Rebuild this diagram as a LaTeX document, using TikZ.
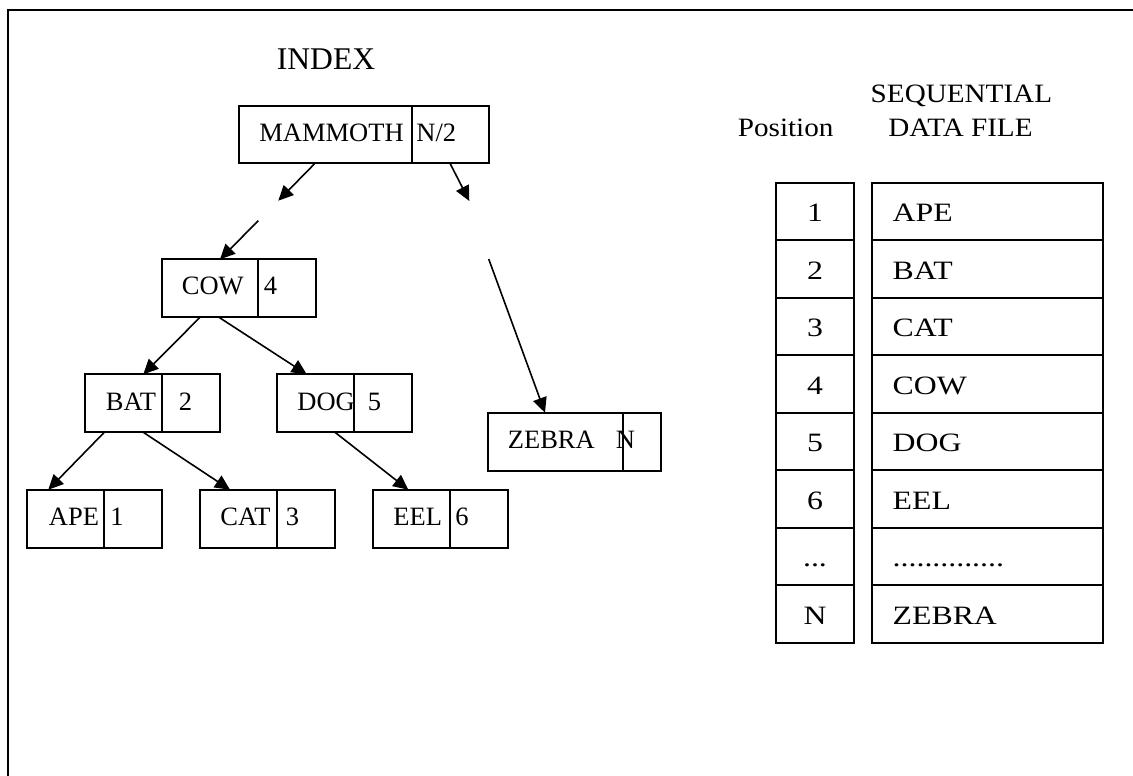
\documentclass[tikz,border=0pt]{standalone}
\usepackage{fontspec}
\setmainfont{Liberation Serif}
\newfontfamily\tabfont{Liberation Serif}[FakeStretch=1.2]
\newfontfamily\hdfont{Liberation Serif}[FakeStretch=1.1]
\usetikzlibrary{arrows.meta,fit}
\newcommand\tdotsA{...}
\newcommand\tdotsB{..............}
\begin{document}
\begin{tikzpicture}[x=0.5pt,y=-0.5pt,
  cellbox/.style={draw, line width=1pt, inner sep=0pt, outer sep=0pt},
  lbl/.style={inner sep=0pt, anchor=base west, font=\fontsize{13.25}{16}\selectfont},
  arr/.style={line width=0.8pt, -{Triangle[length=7.5pt,width=7pt]}},
  tabtxt/.style={inner sep=0pt, font=\tabfont\fontsize{13.25}{16}\selectfont},
  hdr/.style={inner sep=0pt, anchor=base, font=\hdfont\fontsize{13.25}{16}\selectfont}
]
\useasboundingbox (0,0) rectangle (1133,775);
% frame
\draw[line width=1.25pt] (8,776) -- (8,10) -- (1134,10);

% title
\node[inner sep=0pt, anchor=base, font=\fontsize{15.8}{18}\selectfont] (idx) at (326,69.3) {INDEX};

% tree nodes
\node[cellbox, fit={(238.7,105.7) (412,163.3)}] (mamK) {};
\node[cellbox, fit={(412,105.7) (488.7,163.3)}] (mamN) {};
\node[lbl] (mamKt) at (259,141.7) {MAMMOTH};
\node[lbl] (mamNt) at (416,141.7) {N/2};

\node[cellbox, fit={(162,259.3) (258,317.3)}] (cowK) {};
\node[cellbox, fit={(258,259.3) (315.7,317.3)}] (cowN) {};
\node[lbl] (cowKt) at (181.5,294.5) {COW};
\node[lbl] (cowNt) at (263.5,294.5) {4};

\node[cellbox, fit={(85.3,374.3) (162.3,432.3)}] (batK) {};
\node[cellbox, fit={(162.3,374.3) (220,432.3)}] (batN) {};
\node[lbl] (batKt) at (105.5,410) {BAT};
\node[lbl] (batNt) at (178.5,410) {2};

\node[cellbox, fit={(277,374.3) (354.3,432.3)}] (dogK) {};
\node[cellbox, fit={(354.3,374.3) (412,432.3)}] (dogN) {};
\node[lbl] (dogKt) at (297,410) {DOG};
\node[lbl] (dogNt) at (367.5,410) {5};

\node[cellbox, fit={(27.3,489.7) (104.3,547.7)}] (apeK) {};
\node[cellbox, fit={(104.3,489.7) (162.3,547.7)}] (apeN) {};
\node[lbl] (apeKt) at (48.5,525) {APE};
\node[lbl] (apeNt) at (110,525) {1};

\node[cellbox, fit={(200.3,489.7) (277,547.7)}] (catK) {};
\node[cellbox, fit={(277,489.7) (335,547.7)}] (catN) {};
\node[lbl] (catKt) at (220,525) {CAT};
\node[lbl] (catNt) at (285.5,525) {3};

\node[cellbox, fit={(373.3,489.7) (450.3,547.7)}] (eelK) {};
\node[cellbox, fit={(450.3,489.7) (507.7,547.7)}] (eelN) {};
\node[lbl] (eelKt) at (393,525) {EEL};
\node[lbl] (eelNt) at (455,525) {6};

\node[cellbox, fit={(488.3,412.7) (623,470.7)}] (zebK) {};
\node[cellbox, fit={(623,412.7) (661,470.7)}] (zebN) {};
\node[lbl] (zebKt) at (507.5,448.5) {ZEBRA};
\node[lbl] (zebNt) at (615.5,448.5) {N};

% free ends of the broken connectors
\coordinate (g1) at (278.3,200.7);
\coordinate (g2) at (469.3,201);
\coordinate (g3) at (258.3,220.7);
\coordinate (g4) at (488.7,259);

% connectors
\draw[arr] ([xshift=38.15pt]mamK.south west) -- (g1);
\draw[arr] ([xshift=19pt]mamN.south west) -- (g2);
\draw[arr] (g3) -- ([xshift=29pt]cowK.north west);
\draw[arr] (g4) -- ([xshift=28.35pt]zebK.north west);
\draw[arr] ([xshift=19pt]cowK.south west) -- ([xshift=29pt]batK.north west);
\draw[arr] ([xshift=28.5pt]cowK.south west) -- ([xshift=14.85pt]dogK.north west);
\draw[arr] ([xshift=9.5pt]batK.south west) -- ([xshift=10.5pt]apeK.north west);
\draw[arr] ([xshift=29pt]batK.south west) -- ([xshift=14.85pt]catK.north west);
\draw[arr] ([xshift=29pt]dogK.south west) -- ([xshift=17.5pt]eelK.north west);

% headers
\node[hdr, anchor=base west] (pos) at (737.5,137) {Position};
\node[hdr] (seq1) at (961.4,103) {SEQUENTIAL};
\node[hdr] (seq2) at (960.5,137) {DATA FILE};

% table
\foreach \i/\num/\dat [count=\k from 0] in {1/1/APE,2/2/BAT,3/3/CAT,4/4/COW,5/5/DOG,6/6/EEL,7/\tdotsA/\tdotsB,8/N/ZEBRA}{
  \node[cellbox, minimum width=38.85pt, minimum height=28.75pt] (p\i) at (814.85,{211.45+57.5*\k}) {};
  \node[cellbox, minimum width=115.35pt, minimum height=28.75pt] (d\i) at (987.35,{211.45+57.5*\k}) {};
  \node[tabtxt, anchor=base] (pt\i) at (815,{221.7+57.5*\k}) {\num};
  \node[tabtxt, anchor=base west] (dt\i) at (892.3,{221.7+57.5*\k}) {\dat};
}
\end{tikzpicture}
\end{document}
